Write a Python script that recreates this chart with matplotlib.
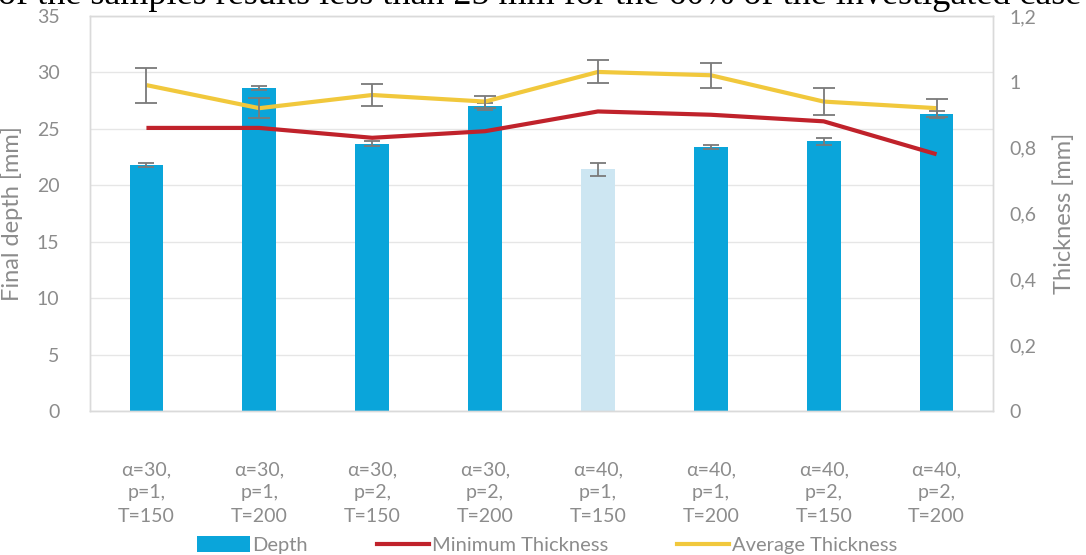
import matplotlib
matplotlib.use("Agg")
import matplotlib.pyplot as plt
from matplotlib.ticker import FuncFormatter, MultipleLocator
from matplotlib.patches import Patch
from matplotlib.lines import Line2D

# Test cases
categories = [
    "α=30,\np=1,\nT=150", "α=30,\np=1,\nT=200", "α=30,\np=2,\nT=150", "α=30,\np=2,\nT=200",
    "α=40,\np=1,\nT=150", "α=40,\np=1,\nT=200", "α=40,\np=2,\nT=150", "α=40,\np=2,\nT=200",
]

# Final depth [mm] and its spread
depth = [21.8, 28.6, 23.7, 27.0, 21.4, 23.4, 23.9, 26.3]
depth_err = [0.2, 0.2, 0.2, 0.3, 0.6, 0.2, 0.3, 0.3]

# Thickness [mm]
min_thickness = [0.86, 0.86, 0.83, 0.85, 0.91, 0.90, 0.88, 0.78]
avg_thickness = [0.99, 0.92, 0.96, 0.94, 1.03, 1.02, 0.94, 0.92]
avg_thickness_err = [0.053, 0.03, 0.032, 0.018, 0.035, 0.038, 0.04, 0.027]

# The α=40, p=1, T=150 case is drawn faded
highlight = [True, True, True, True, False, True, True, True]

BLUE = "#0AA5DA"
FADED = "#CDE6F2"
RED = "#C0222B"
YELLOW = "#F1C83C"
GRID = "#E6E6E6"
TXT = "#8C8C8C"
ERR = "#7A7A7A"

plt.rcParams["font.family"] = ["Lato", "DejaVu Sans"]

fig = plt.figure(figsize=(10.86, 5.55), dpi=100)
ax = fig.add_axes([90 / 1086, 1 - 411 / 555, (993 - 90) / 1086, (411 - 16) / 555])
ax2 = ax.twinx()

x = list(range(len(categories)))
colors = [BLUE if h else FADED for h in highlight]
ax.bar(x, depth, width=0.30, color=colors, zorder=2)
ax.errorbar(x, depth, yerr=depth_err, fmt="none", ecolor=ERR, elinewidth=1.3,
            capsize=6, capthick=1.3, zorder=3)

ax.set_xlim(-0.5, len(categories) - 0.5)
ax.set_ylim(0, 35)
ax.yaxis.set_major_locator(MultipleLocator(5))
ax.set_xticks(x)
ax.set_xticklabels(categories, linespacing=1.45)
ax.grid(axis="y", color=GRID, linewidth=1, zorder=0)
ax.set_axisbelow(True)
ax.tick_params(axis="x", length=0, pad=36, labelsize=14, labelcolor=TXT)
ax.tick_params(axis="y", length=0, pad=22, labelsize=14, labelcolor=TXT)
ax.set_ylabel("Final depth [mm]", fontsize=17, color=TXT, labelpad=10)

# Thickness lines on the secondary axis, drawn above the bars
ax2.plot(x, min_thickness, color=RED, linewidth=3, solid_capstyle="butt", zorder=4)
ax2.plot(x, avg_thickness, color=YELLOW, linewidth=3, solid_capstyle="butt", zorder=4)
ax2.errorbar(x, avg_thickness, yerr=avg_thickness_err, fmt="none", ecolor=ERR,
             elinewidth=1.3, capsize=8, capthick=1.3, zorder=5)
ax2.set_ylim(0, 1.2)
ax2.yaxis.set_major_locator(MultipleLocator(0.2))
ax2.yaxis.set_major_formatter(FuncFormatter(lambda v, _: f"{v:.1f}".rstrip("0").rstrip(".").replace(".", ",")))
ax2.tick_params(axis="y", length=0, pad=12, labelsize=14, labelcolor=TXT)
ax2.set_ylabel("Thickness [mm]", fontsize=17, color=TXT, labelpad=12)

for a in (ax, ax2):
    for s in a.spines.values():
        s.set_color("#DADADA")
        s.set_linewidth(1)

handles = [
    Patch(facecolor=BLUE, edgecolor="none", label="Depth"),
    Line2D([], [], color=RED, linewidth=3, label="Minimum Thickness"),
    Line2D([], [], color=YELLOW, linewidth=3, label="Average Thickness"),
]
leg = fig.legend(handles=handles, loc="center", bbox_to_anchor=(0.504, 1 - 545 / 555),
                 ncol=3, frameon=False, fontsize=14.5, labelcolor=TXT,
                 handlelength=2.6, handleheight=0.8, handletextpad=0.15, columnspacing=3.4,
                 borderaxespad=0)

# Running text of the surrounding page, cut by the upper border
fig.text(-0.002, 1 - 4 / 555,
         "of the samples results less than 25 mm for the 60% of the investigated case",
         family="Liberation Serif", fontsize=26, color="black", va="baseline", ha="left")

fig.savefig("out.png", dpi=100)
